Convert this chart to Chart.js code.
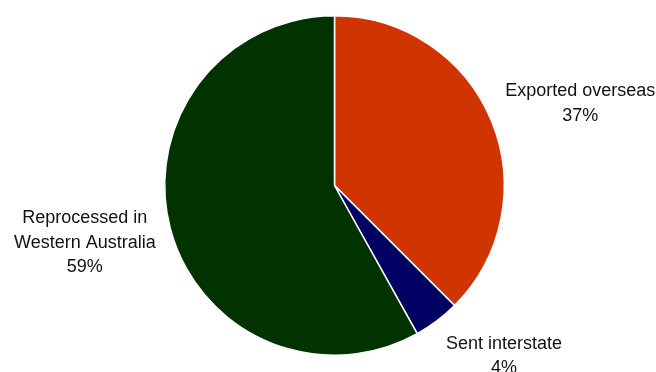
<!DOCTYPE html>
<html>
<head>
<meta charset="utf-8">
<script src="https://cdn.jsdelivr.net/npm/chart.js@4"></script>
<style>
html,body{margin:0;padding:0;background:#fff;}
canvas{display:block;}
</style>
</head>
<body>
<canvas id="c" width="656" height="372"></canvas>
<script>
const categories = ["Exported overseas", "Sent interstate", "Reprocessed in Western Australia"];
const labelLines = [["Exported overseas"], ["Sent interstate"], ["Reprocessed in", "Western Australia"]];
const values = [37.5, 4.4, 58.1];
const percentLabels = ["37%", "4%", "59%"];
const colors = ["#d03400", "#000062", "#003300"];

const outsideLabels = {
  id: 'outsideLabels',
  afterDatasetsDraw(chart) {
    const ctx = chart.ctx;
    const meta = chart.getDatasetMeta(0);
    const fontSize = 18, lh = 24.5, gap = 15;
    const clamp = v => Math.max(-1, Math.min(1, v));
    ctx.save();
    ctx.font = fontSize + 'px "Liberation Sans", Arial, sans-serif';
    ctx.fillStyle = '#111111';
    ctx.textBaseline = 'middle';
    ctx.textAlign = 'center';
    meta.data.forEach((arc, i) => {
      const p = arc.getProps(['x','y','startAngle','endAngle','outerRadius'], true);
      const mid = (p.startAngle + p.endAngle) / 2;
      const dx = Math.cos(mid), dy = Math.sin(mid);
      const r = p.outerRadius + gap;
      const px = p.x + dx * r, py = p.y + dy * r;
      const lines = labelLines[i].concat([percentLabels[i]]);
      const w = Math.max(...lines.map(l => ctx.measureText(l).width));
      const h = lines.length * lh;
      const cx = px + clamp(dx / 0.6) * w / 2;
      const cy = py + clamp(dy / 0.85) * h / 2;
      const top = cy - h / 2;
      lines.forEach((l, k) => ctx.fillText(l, cx, top + lh * k + lh / 2));
    });
    ctx.restore();
  }
};

new Chart(document.getElementById('c'), {
  type: 'pie',
  data: {
    labels: categories,
    datasets: [{
      data: values,
      backgroundColor: colors,
      borderColor: '#ffffff',
      borderWidth: 1.5
    }]
  },
  options: {
    responsive: false,
    devicePixelRatio: 1,
    animation: false,
    layout: { padding: { top: 15, bottom: 16, left: 13, right: 0 } },
    plugins: { legend: { display: false }, tooltip: { enabled: false } }
  },
  plugins: [outsideLabels]
});
</script>
</body>
</html>
